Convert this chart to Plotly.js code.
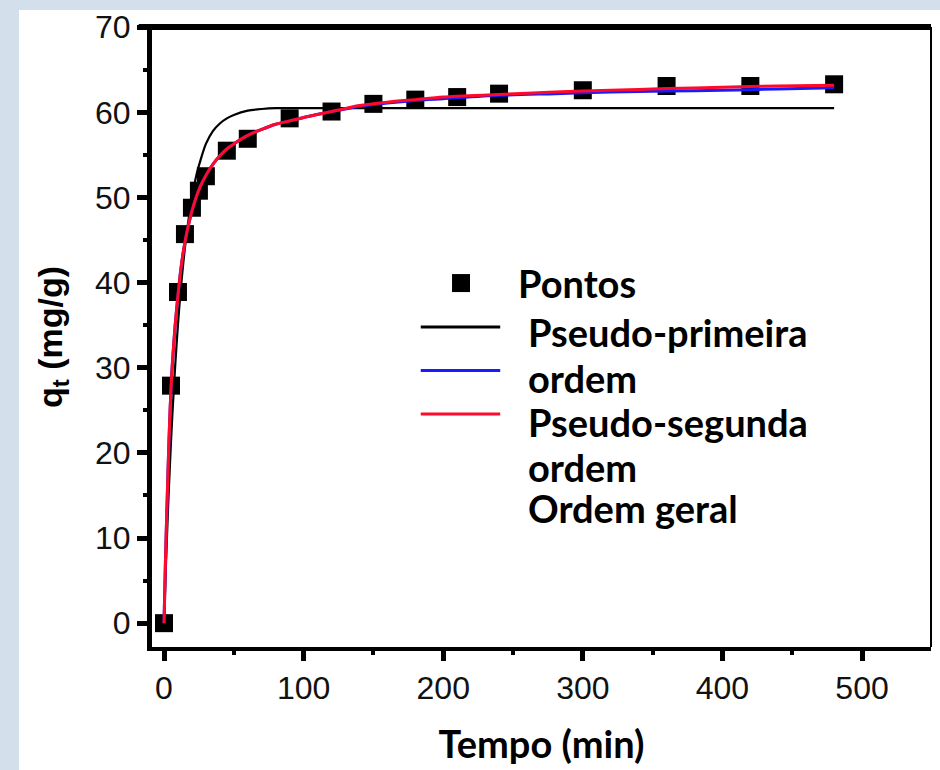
<!DOCTYPE html>
<html>
<head>
<meta charset="utf-8">
<script src="https://cdn.plot.ly/plotly-3.0.1.min.js"></script>
<style>
  html, body { margin: 0; padding: 0; background: #d3dfea; width: 940px; height: 770px; overflow: hidden; }
  #panel { position: absolute; left: 19px; top: 10px; width: 921px; height: 760px; background: #ffffff; }
  #chart { width: 921px; height: 760px; }
</style>
</head>
<body>
<div id="panel"><div id="chart"></div></div>
<script>
// Experimental points
const tempoPontos = [0, 5, 10, 15, 20, 25, 30, 45, 60, 90, 120, 150, 180, 210, 240, 300, 360, 420, 480];
const qPontos     = [0, 27.9, 38.9, 45.7, 48.8, 50.8, 52.5, 55.5, 56.9, 59.3, 60.1, 61.0, 61.5, 61.8, 62.2, 62.6, 63.1, 63.1, 63.3];

// Fitted curves
const tempoCurva = [0, 1, 2, 3, 4, 5, 6, 8, 10, 12, 14, 16, 18, 20, 23, 26, 30, 35, 40, 45, 50, 60, 70, 80, 90, 100, 120, 140, 160, 180, 200, 240, 280, 320, 360, 400, 440, 480];
const qPrimeira  = [0, 5.0, 9.6, 13.9, 17.7, 21.3, 24.5, 30.2, 35.1, 39.2, 42.6, 45.5, 47.9, 49.9, 52.5, 54.3, 56.3, 57.8, 58.7, 59.3, 59.7, 60.2, 60.4, 60.5, 60.5, 60.5, 60.5, 60.5, 60.5, 60.5, 60.5, 60.5, 60.5, 60.5, 60.5, 60.5, 60.5, 60.5];
const qSegunda   = [0, 7.0, 13.0, 18.5, 23.5, 27.5, 30.5, 35.0, 38.5, 41.5, 43.8, 45.6, 47.1, 48.4, 50.0, 51.3, 52.6, 53.9, 54.9, 55.7, 56.3, 57.3, 58.0, 58.6, 59.0, 59.4, 60.1, 60.7, 61.1, 61.4, 61.6, 62.0, 62.2, 62.4, 62.5, 62.6, 62.75, 62.9];
const qGeral     = [0, 7.0, 13.0, 18.5, 23.5, 27.5, 30.5, 35.0, 38.5, 41.5, 43.8, 45.6, 47.1, 48.4, 50.0, 51.3, 52.6, 53.9, 54.9, 55.7, 56.3, 57.3, 58.0, 58.6, 59.0, 59.4, 60.1, 60.8, 61.2, 61.5, 61.8, 62.1, 62.4, 62.6, 62.8, 62.95, 63.1, 63.2];

// Legend / axis text
const legendaTextos = ['Pontos', 'Pseudo-primeira', 'ordem', 'Pseudo-segunda', 'ordem', 'Ordem geral'];
const tituloX = 'Tempo (min)';
const tituloY = 'q<sub>t</sub> (mg/g)';
const xTicks = [0, 100, 200, 300, 400, 500];
const yTicks = [0, 10, 20, 30, 40, 50, 60, 70];

const legendFont = { family: 'Lato, "Open Sans", sans-serif', size: 38, color: '#000', weight: 'bold' };
const tickFont = { family: '"Liberation Sans", Arial, sans-serif', size: 32, color: '#111' };

const traces = [
  { x: tempoPontos, y: qPontos, mode: 'markers', type: 'scatter', name: 'Pontos',
    marker: { symbol: 'square', size: 18, color: '#000' } },
  { x: tempoCurva, y: qPrimeira, mode: 'lines', type: 'scatter', name: 'Pseudo-primeira ordem',
    line: { color: '#000', width: 2.2, shape: 'spline', smoothing: 0.8 } },
  { x: tempoCurva, y: qSegunda, mode: 'lines', type: 'scatter', name: 'Pseudo-segunda ordem',
    line: { color: '#1a1aff', width: 3, shape: 'spline', smoothing: 0.8 } },
  { x: tempoCurva, y: qGeral, mode: 'lines', type: 'scatter', name: 'Ordem geral',
    line: { color: '#ff0a2a', width: 3, shape: 'spline', smoothing: 0.8 } }
];

// legend layout helpers (paper coords)
const legX = [0.467, 0.480, 0.480, 0.480, 0.480, 0.480];
const legY = [0.587, 0.508, 0.434, 0.363, 0.290, 0.224];
const annotations = legendaTextos.map((t, i) => ({
  xref: 'paper', yref: 'paper', x: legX[i], y: legY[i], xanchor: 'left', yanchor: 'middle',
  text: t, showarrow: false, font: legendFont
}));

const lineY = [0.516, 0.446, 0.376];
const lineCol = ['#000', '#1a1aff', '#ff0a2a'];
const shapes = [
  // top frame line
  { type: 'line', xref: 'paper', yref: 'paper', x0: -0.017, x1: 1, y0: 1, y1: 1, line: { color: '#000', width: 6 } },
  // right frame line
  { type: 'line', xref: 'paper', yref: 'paper', x0: 1, x1: 1, y0: 0, y1: 1, line: { color: '#000', width: 2 } },
  // legend square
  { type: 'rect', xref: 'paper', yref: 'paper', xsizemode: 'pixel', ysizemode: 'pixel',
    xanchor: 0.3967, yanchor: 0.587, x0: -9, x1: 9, y0: -9, y1: 9,
    fillcolor: '#000', line: { width: 0 } }
].concat(lineY.map((y, i) => ({
  type: 'line', xref: 'paper', yref: 'paper', x0: 0.345, x1: 0.447, y0: y, y1: y,
  line: { color: lineCol[i], width: 3 }
})));

const layout = {
  width: 921, height: 760,
  paper_bgcolor: '#ffffff', plot_bgcolor: '#ffffff',
  margin: { l: 133, r: 9, t: 17, b: 123 },
  showlegend: false,
  xaxis: {
    range: [-8.6, 549.4], tickvals: xTicks, ticktext: xTicks.map(String),
    showgrid: false, zeroline: false, showline: true, linecolor: '#000', linewidth: 4,
    ticks: 'outside', ticklen: 10, tickwidth: 5, tickcolor: '#000',
    minor: { dtick: 50, ticks: 'outside', ticklen: 4, tickwidth: 4, tickcolor: '#000', showgrid: false },
    tickfont: tickFont, ticklabeloverflow: 'allow',
    title: { text: tituloX, font: { family: 'Lato, "Open Sans", sans-serif', size: 38, color: '#000', weight: 'bold' }, standoff: 27 }
  },
  yaxis: {
    range: [-2.8, 70.03], tickvals: yTicks, ticktext: yTicks.map(String),
    showgrid: false, zeroline: false, showline: true, linecolor: '#000', linewidth: 5,
    ticks: 'outside', ticklen: 10, tickwidth: 5, tickcolor: '#000',
    minor: { dtick: 5, ticks: 'outside', ticklen: 4, tickwidth: 4, tickcolor: '#000', showgrid: false },
    tickfont: tickFont, ticklabeloverflow: 'allow',
    title: { text: tituloY, font: { family: '"Liberation Sans", Arial, sans-serif', size: 34, color: '#000', weight: 'bold' }, standoff: 24 }
  },
  annotations: annotations,
  shapes: shapes
};

Plotly.newPlot('chart', traces, layout, { displayModeBar: false, staticPlot: true });
</script>
</body>
</html>
